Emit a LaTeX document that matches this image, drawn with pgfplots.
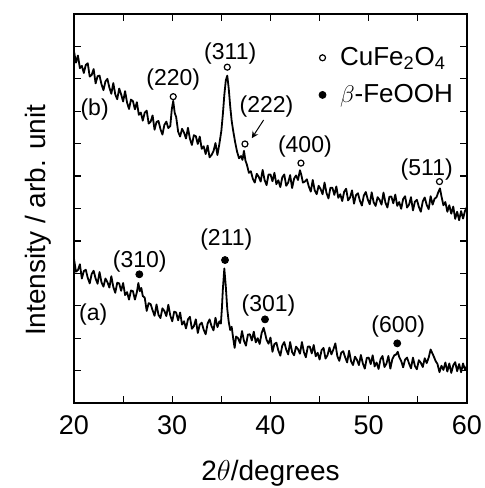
\documentclass[border=0pt]{standalone}
\usepackage{fontspec}
\setmainfont{Liberation Sans}
\usepackage{pgfplots}
\pgfplotsset{compat=1.18}

\begin{document}
\begin{tikzpicture}
% page: 484 x 488 px at 0.5pt per px, axis box corner at the origin
\useasboundingbox (-37pt,-42.5pt) rectangle (205pt,201.5pt);
\begin{axis}[
    at={(0,0)}, anchor=south west,
    scale only axis, width=196.5pt, height=194.5pt,
    xmin=20, xmax=60, ymin=0, ymax=12,
    xtick={20,30,...,60}, minor x tick num=1,
    ytick={0,1,...,12}, yticklabels={},
    tick align=inside,
    major tick length=3.5pt, minor tick length=3.5pt,
    tick style={line width=0.6pt, black},
    axis line style={line width=0.7pt},
    /pgf/number format/assume math mode=true,
    ticklabel style={font=\fontsize{13.5}{15}\selectfont},
    xticklabel style={yshift=-3pt},
    xlabel={2$\theta$/degrees},
    ylabel={Intensity / arb. unit},
    every axis x label/.style={at={(axis description cs:0.5,-0.198)}, anchor=base, inner sep=0pt, font=\fontsize{14}{16}\selectfont},
    every axis y label/.style={at={(axis description cs:-0.09,0.47)}, rotate=90, anchor=center, inner sep=0pt, font=\fontsize{14}{16}\selectfont},
    legend image code/.code={\draw[#1] plot coordinates {(0cm,0cm)};},
    legend style={at={(axis cs:44.9,11.05)}, anchor=north west, draw=none, fill=none,
        font=\fontsize{13}{16}\selectfont, row sep=6pt, inner sep=0pt,
        nodes={inner sep=1pt}, column sep=6pt},
    legend cell align=left,
]
  % (b)
  \addplot[black, line width=0.9pt, line join=round, forget plot] coordinates {
    (20.0,10.85) (20.2,10.50) (20.4,10.72) (20.6,10.33) (20.8,10.40) (21.0,10.18)
    (21.2,10.43) (21.4,10.48) (21.6,10.07) (21.8,10.12) (22.0,10.30) (22.2,9.86)
    (22.4,10.08) (22.6,10.10) (22.8,9.83) (23.0,9.65) (23.2,9.92) (23.4,10.00)
    (23.6,9.73) (23.8,9.54) (24.0,9.87) (24.2,9.52) (24.4,9.37) (24.6,9.70)
    (24.8,9.52) (25.0,9.30) (25.2,9.62) (25.4,9.27) (25.6,9.07) (25.8,9.36)
    (26.0,9.31) (26.2,9.06) (26.4,9.28) (26.6,8.89) (26.8,8.96) (27.0,8.71)
    (27.2,8.96) (27.4,9.02) (27.6,8.62) (27.8,8.68) (28.0,8.87) (28.2,8.43)
    (28.4,8.67) (28.6,8.70) (28.8,8.45) (29.0,8.28) (29.2,8.58) (29.4,8.68)
    (29.6,8.48) (29.8,8.54) (29.95,9.05) (30.1,9.32) (30.25,8.95) (30.4,8.82)
    (30.6,8.37) (30.8,8.22) (31.0,8.46) (31.2,8.34) (31.4,8.16) (31.6,8.49)
    (31.8,8.15) (32.0,7.96) (32.2,8.26) (32.4,8.23) (32.6,7.99) (32.8,8.22)
    (33.0,7.84) (33.2,7.92) (33.4,7.68) (33.6,7.94) (33.8,7.58) (34.0,7.65)
    (34.2,7.77) (34.4,8.02) (34.6,7.65) (34.8,8.00) (35.0,8.40) (35.15,8.90)
    (35.3,9.50) (35.45,9.95) (35.6,10.10) (35.75,9.70) (35.9,9.15) (36.05,8.70)
    (36.2,8.40) (36.4,8.05) (36.6,7.75) (36.8,7.55) (37.0,7.62) (37.15,7.50)
    (37.3,7.78) (37.45,7.48) (37.6,7.35) (37.8,7.10) (38.0,7.15) (38.2,6.92)
    (38.4,6.80) (38.6,7.07) (38.8,6.98) (39.0,6.83) (39.2,7.19) (39.4,6.88)
    (39.6,6.72) (39.8,7.05) (40.0,7.05) (40.2,6.84) (40.4,7.10) (40.6,6.75)
    (40.8,6.87) (41.0,6.66) (41.2,6.96) (41.4,7.05) (41.6,6.70) (41.8,6.80)
    (42.0,7.03) (42.2,6.63) (42.4,6.92) (42.6,7.02) (42.8,6.88) (43.0,7.18)
    (43.15,7.02) (43.3,6.80) (43.5,6.83) (43.7,6.90) (43.9,6.68) (44.1,6.52)
    (44.3,6.88) (44.5,6.56) (44.7,6.44) (44.9,6.70) (45.1,6.60) (45.3,6.44)
    (45.5,6.80) (45.7,6.48) (45.9,6.31) (46.1,6.64) (46.3,6.64) (46.5,6.42)
    (46.7,6.68) (46.9,6.33) (47.1,6.44) (47.3,6.23) (47.5,6.52) (47.7,6.61)
    (47.9,6.25) (48.1,6.34) (48.3,6.56) (48.5,6.15) (48.7,6.41) (48.9,6.47)
    (49.1,6.24) (49.3,6.09) (49.5,6.40) (49.7,6.51) (49.9,6.28) (50.1,6.13)
    (50.3,6.50) (50.5,6.19) (50.7,6.08) (50.9,6.35) (51.1,6.27) (51.3,6.12)
    (51.5,6.49) (51.7,6.18) (51.9,6.03) (52.1,6.36) (52.3,6.37) (52.5,6.16)
    (52.7,6.43) (52.9,6.08) (53.1,6.20) (53.3,5.99) (53.5,6.29) (53.7,6.38)
    (53.9,6.03) (54.1,6.12) (54.3,6.35) (54.5,5.94) (54.7,6.21) (54.9,6.27)
    (55.1,6.05) (55.3,5.90) (55.5,6.22) (55.7,6.34) (55.9,6.11) (56.1,5.98)
    (56.3,6.38) (56.5,6.12) (56.7,6.30) (56.9,6.35) (57.1,6.52) (57.25,6.62)
    (57.4,6.38) (57.6,6.10) (57.8,6.20) (58.0,5.90) (58.2,6.10) (58.4,5.84)
    (58.6,6.06) (58.8,5.68) (59.0,5.90) (59.2,5.64) (59.4,5.92) (59.6,5.69)
    (59.8,5.93) (60.0,6.05)
  };
  % (a)
  \addplot[black, line width=0.9pt, line join=round, forget plot] coordinates {
    (20.0,4.45) (20.2,4.05) (20.4,4.10) (20.6,4.28) (20.8,3.84) (21.0,4.07)
    (21.2,4.11) (21.4,3.86) (21.6,3.69) (21.8,3.98) (22.0,4.08) (22.2,3.84)
    (22.4,3.68) (22.6,4.04) (22.8,3.72) (23.0,3.59) (23.2,3.84) (23.4,3.73)
    (23.6,3.56) (23.8,3.91) (24.0,3.58) (24.2,3.40) (24.4,3.71) (24.6,3.69)
    (24.8,3.46) (25.0,3.70) (25.2,3.33) (25.4,3.42) (25.6,3.19) (25.8,3.47)
    (26.0,3.45) (26.2,3.19) (26.4,3.42) (26.55,3.70) (26.7,3.45) (26.85,3.55)
    (27.0,3.30) (27.2,3.25) (27.4,2.84) (27.6,3.08) (27.8,3.05) (28.0,2.86)
    (28.2,2.69) (28.4,3.04) (28.6,2.72) (28.8,2.62) (29.0,2.92) (29.2,2.84)
    (29.4,2.68) (29.6,3.03) (29.8,2.70) (30.0,2.52) (30.2,2.82) (30.4,2.79)
    (30.6,2.55) (30.8,2.79) (31.0,2.42) (31.2,2.52) (31.4,2.30) (31.6,2.58)
    (31.8,2.66) (32.0,2.29) (32.2,2.37) (32.4,2.58) (32.6,2.16) (32.8,2.42)
    (33.0,2.48) (33.2,2.26) (33.4,2.12) (33.6,2.45) (33.8,2.58) (34.0,2.37)
    (34.2,2.24) (34.4,2.63) (34.6,2.34) (34.8,2.52) (34.95,2.45) (35.05,2.90)
    (35.15,3.50) (35.3,4.15) (35.45,3.60) (35.6,2.90) (35.75,2.50) (35.9,2.25)
    (36.05,2.35) (36.2,2.00) (36.35,1.70) (36.5,2.05) (36.7,2.00) (36.9,1.85)
    (37.1,2.22) (37.3,1.92) (37.5,1.77) (37.7,2.11) (37.9,2.12) (38.1,1.93)
    (38.3,2.20) (38.5,1.87) (38.7,2.00) (38.9,1.82) (39.1,2.16) (39.3,2.32)
    (39.45,2.15) (39.6,1.95) (39.8,1.83) (40.0,2.02) (40.2,1.58) (40.4,1.82)
    (40.6,1.86) (40.8,1.62) (41.0,1.46) (41.2,1.77) (41.4,1.88) (41.6,1.65)
    (41.8,1.50) (42.0,1.88) (42.2,1.57) (42.4,1.47) (42.6,1.74) (42.8,1.66)
    (43.0,1.52) (43.2,1.88) (43.4,1.57) (43.6,1.41) (43.8,1.74) (44.0,1.74)
    (44.2,1.53) (44.4,1.79) (44.6,1.44) (44.8,1.55) (45.0,1.34) (45.2,1.63)
    (45.4,1.70) (45.6,1.37) (45.8,1.47) (46.0,1.71) (46.2,1.50) (46.4,1.65)
    (46.6,1.84) (46.8,1.45) (47.0,1.30) (47.2,1.55) (47.4,1.60) (47.6,1.41)
    (47.8,1.25) (48.0,1.61) (48.2,1.29) (48.4,1.17) (48.6,1.43) (48.8,1.33)
    (49.0,1.17) (49.2,1.48) (49.4,1.22) (49.6,1.06) (49.8,1.39) (50.0,1.40)
    (50.2,1.20) (50.4,1.47) (50.6,1.13) (50.8,1.25) (51.0,1.05) (51.2,1.35)
    (51.4,1.45) (51.6,1.11) (51.8,1.21) (52.0,1.45) (52.2,1.06) (52.4,1.35)
    (52.6,1.47) (52.8,1.50) (52.95,1.58) (53.1,1.42) (53.3,1.30) (53.5,1.10)
    (53.7,1.34) (53.9,1.40) (54.1,1.22) (54.3,1.07) (54.5,1.40) (54.7,1.14)
    (54.9,1.04) (55.1,1.32) (55.3,1.24) (55.5,1.11) (55.7,1.38) (55.9,1.23)
    (56.1,1.40) (56.3,1.65) (56.45,1.55) (56.6,1.45) (56.8,1.30) (57.0,1.20)
    (57.2,0.95) (57.4,1.15) (57.6,1.02) (57.8,1.25) (58.0,0.97) (58.2,1.22)
    (58.4,0.93) (58.6,1.16) (58.8,1.26) (59.0,0.98) (59.2,1.20) (59.4,0.95)
    (59.6,1.22) (59.8,1.02) (60.0,1.15)
  };
  % peak markers
  \addplot[only marks, mark=o, mark size=1.5pt, mark options={line width=0.6pt}, black]
    coordinates {(30.1,9.45) (35.6,10.36) (37.4,7.99) (43.1,7.40) (57.2,6.83)};
  \addlegendentry{CuFe\textsubscript{2}O\textsubscript{4}}
  \addplot[only marks, mark=*, mark size=1.75pt, black]
    coordinates {(26.65,3.97) (35.37,4.41) (39.44,2.58) (52.9,1.84)};
  \addlegendentry{$\beta$-FeOOH}

  % labels
  \begin{scope}[font=\fontsize{11.5}{13}\selectfont]
    \node at (axis cs:22.1,9.04) {(b)};
    \node at (axis cs:21.95,2.72) {(a)};
    \node at (axis cs:30.1,9.97) {(220)};
    \node at (axis cs:35.9,10.79) {(311)};
    \node at (axis cs:39.6,9.14) {(222)};
    \node at (axis cs:43.5,7.91) {(400)};
    \node at (axis cs:55.9,7.19) {(511)};
    \node at (axis cs:26.7,4.36) {(310)};
    \node at (axis cs:35.5,5.03) {(211)};
    \node at (axis cs:39.8,3.02) {(301)};
    \node at (axis cs:53.0,2.35) {(600)};
  \end{scope}
  \draw[-stealth, line width=0.5pt] (axis cs:39.3,8.73) -- (axis cs:38.1,8.17);
\end{axis}
\end{tikzpicture}
\end{document}
